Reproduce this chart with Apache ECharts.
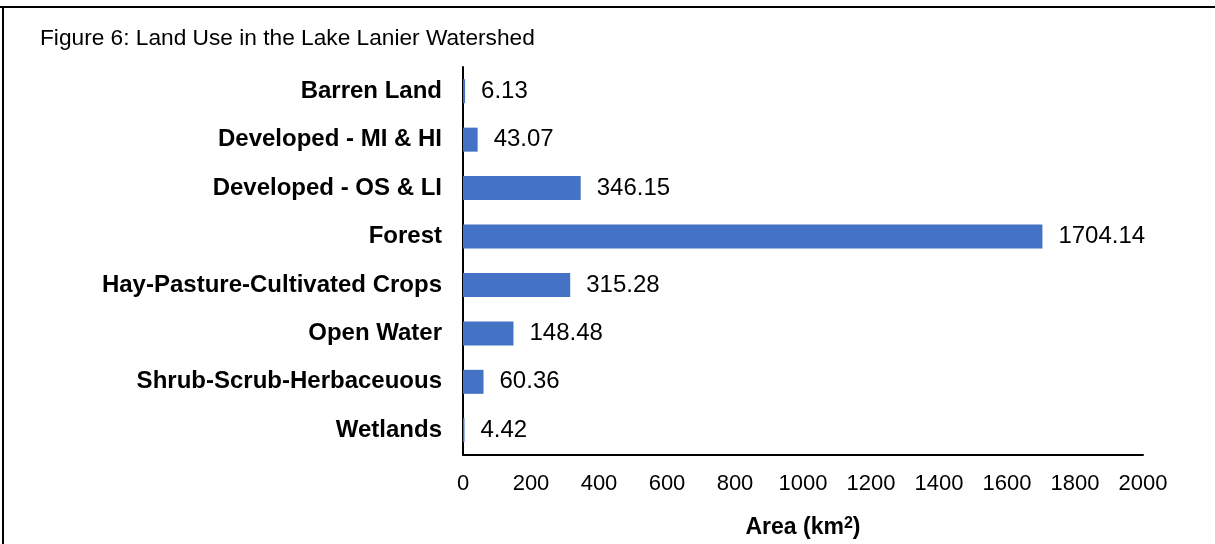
<!DOCTYPE html>
<html>
<head>
<meta charset="utf-8">
<script src="https://cdn.jsdelivr.net/npm/echarts@6/dist/echarts.min.js"></script>
<style>
html,body{margin:0;padding:0;background:#fff;}
#chart{width:1215px;height:544px;}
</style>
</head>
<body>
<div id="chart"></div>
<script>
const titleText = 'Figure 6: Land Use in the Lake Lanier Watershed';
const categories = ['Barren Land','Developed - MI & HI','Developed - OS & LI','Forest','Hay-Pasture-Cultivated Crops','Open Water','Shrub-Scrub-Herbaceuous','Wetlands'];
const areaValues = [6.13, 43.07, 346.15, 1704.14, 315.28, 148.48, 60.36, 4.42];
const xAxisNameMain = 'Area (km';
const xAxisNameSup = '2';
const xAxisNameEnd = ')';

const font = 'Liberation Sans, Arial, sans-serif';
const chart = echarts.init(document.getElementById('chart'), null, {renderer:'canvas'});
chart.setOption({
  backgroundColor:'#ffffff',
  animation:false,
  title:{
    text:titleText, left:40, top:27, padding:0,
    textStyle:{fontFamily:font, fontSize:22.7, fontWeight:'normal', color:'#000'}
  },
  graphic:[
    {type:'line', shape:{x1:0,y1:7,x2:1215,y2:7}, style:{stroke:'#000', lineWidth:2}},
    {type:'line', shape:{x1:3,y1:6,x2:3,y2:544}, style:{stroke:'#000', lineWidth:2}}
  ],
  grid:{left:463, right:72, top:67, bottom:76, containLabel:false},
  xAxis:{
    type:'value', min:0, max:2000, interval:200,
    axisLine:{show:true, lineStyle:{color:'#000', width:2}},
    axisTick:{show:false},
    splitLine:{show:false},
    axisLabel:{fontFamily:font, fontSize:22, color:'#000', margin:18, formatter:v=>String(v)},
    name:'{a|' + xAxisNameMain + '}{s|' + xAxisNameSup + '}{a|' + xAxisNameEnd + '}',
    nameLocation:'middle', nameGap:61,
    nameTextStyle:{
      fontFamily:font, fontSize:23, fontWeight:'bold', color:'#000',
      rich:{
        a:{fontFamily:font, fontSize:23, fontWeight:'bold', color:'#000'},
        s:{fontFamily:font, fontSize:16, fontWeight:'bold', color:'#000', verticalAlign:'top', padding:[0,0,8,0]}
      }
    }
  },
  yAxis:{
    type:'category', data:categories, inverse:true,
    axisLine:{show:true, lineStyle:{color:'#000', width:2}},
    axisTick:{show:false},
    axisLabel:{fontFamily:font, fontSize:24, fontWeight:'bold', color:'#000', margin:21}
  },
  series:[{
    type:'bar', data:areaValues, barWidth:24,
    itemStyle:{color:'#4472C4'},
    label:{show:true, position:'right', distance:16, fontFamily:font, fontSize:24, color:'#000',
      formatter:p=>p.value.toFixed(2)}
  }]
});
</script>
</body>
</html>
